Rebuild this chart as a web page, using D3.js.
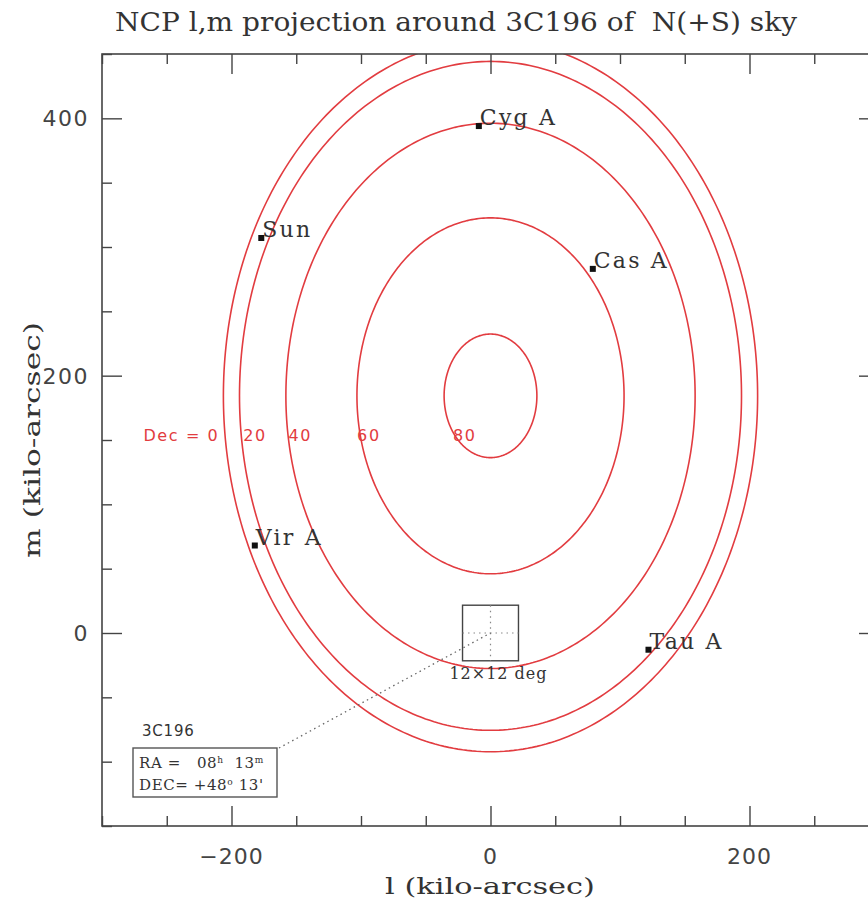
<!DOCTYPE html>
<html>
<head>
<meta charset="utf-8">
<script src="https://cdn.jsdelivr.net/npm/d3@7"></script>
<style>
  html, body { margin: 0; padding: 0; background: #fff; }
  svg { display: block; }
  text.pre { white-space: pre; }
</style>
</head>
<body>
<svg id="chart" width="868" height="905"></svg>
<script>
// Phase centre: 3C196
const phaseCentre = { name: "3C196", ra: "08h 13m", decDeg: 48 + 13 / 60 };

// Declination circles (degrees) drawn as NCP ellipses
const decCircles = [0, 20, 40, 60, 80];
// Where each declination label starts along l (kilo-arcsec), and its text
const decLabelText = ["Dec = 0", "20", "40", "60", "80"];
const decLabelL = [-268, -191, -156, -103, -29];
const decLabelM = 149;

// Bright sources in l,m (kilo-arcsec)
const sourceNames = ["Cyg A", "Sun", "Cas A", "Vir A", "Tau A"];
const sourceL = [-9, -177, 79, -182, 122];
const sourceM = [394, 307, 283, 68, -13];

// Axis ticks
const majorTicks = [-400, -200, 0, 200, 400];
const minorStep = 50;

// Field of view box (degrees)
const fovDeg = 12;

const KARCSEC_PER_RAD = 206.264806;
const deg = Math.PI / 180;

const svg = d3.select("#chart");
const plot = { left: 102, right: 879, top: 54, bottom: 826 };

const x = d3.scaleLinear().domain([-300, 300]).range([plot.left, plot.right]);
const y = d3.scaleLinear().domain([-150, 450]).range([plot.bottom, plot.top]);

const ink = "#333";
const red = "#e23c40";

// Title
svg.append("text")
  .attr("class", "pre")
  .attr("x", 456).attr("y", 31)
  .attr("text-anchor", "middle")
  .attr("font-family", "DejaVu Serif")
  .attr("font-size", 26)
  .attr("fill", ink)
  .attr("textLength", 682).attr("lengthAdjust", "spacingAndGlyphs")
  .text("NCP l,m projection around 3C196 of  N(+S) sky");

// Clip for the plot contents
svg.append("defs").append("clipPath").attr("id", "plotClip")
  .append("rect")
  .attr("x", plot.left).attr("y", plot.top)
  .attr("width", plot.right - plot.left).attr("height", plot.bottom - plot.top);

const g = svg.append("g").attr("clip-path", "url(#plotClip)");

// NCP projection of a declination circle around the phase centre
const sinD0 = Math.sin(phaseCentre.decDeg * deg);
const cosD0 = Math.cos(phaseCentre.decDeg * deg);
function decCircle(dDeg) {
  const cd = Math.cos(dDeg * deg);
  return d3.range(0, 361, 1).map(h => {
    const H = h * deg;
    return [
      cd * Math.sin(H) * KARCSEC_PER_RAD,
      (cosD0 - cd * Math.cos(H)) / sinD0 * KARCSEC_PER_RAD
    ];
  });
}

const line = d3.line().x(d => x(d[0])).y(d => y(d[1]));
g.selectAll("path.dec")
  .data(decCircles)
  .join("path")
  .attr("class", "dec")
  .attr("d", d => line(decCircle(d)))
  .attr("fill", "none")
  .attr("stroke", red)
  .attr("stroke-width", 1.6);

// Declination labels
g.selectAll("text.declab")
  .data(decLabelText)
  .join("text")
  .attr("class", "declab")
  .attr("x", (d, i) => x(decLabelL[i]))
  .attr("y", y(decLabelM))
  .attr("font-family", "DejaVu Sans")
  .attr("font-size", 16)
  .attr("letter-spacing", 1.6)
  .attr("fill", red)
  .text(d => d);

// Field of view box around the phase centre
const half = fovDeg / 2 * 3.6; // kilo-arcsec
g.append("rect")
  .attr("x", x(-half)).attr("y", y(half))
  .attr("width", x(half) - x(-half)).attr("height", y(-half) - y(half))
  .attr("fill", "none").attr("stroke", "#444").attr("stroke-width", 1.4);
g.append("line")
  .attr("x1", x(0)).attr("x2", x(0)).attr("y1", y(half)).attr("y2", y(-half))
  .attr("stroke", "#888").attr("stroke-width", 1.2).attr("stroke-dasharray", "1.5,4");
g.append("line")
  .attr("x1", x(-half)).attr("x2", x(half)).attr("y1", y(0)).attr("y2", y(0))
  .attr("stroke", "#888").attr("stroke-width", 1.2).attr("stroke-dasharray", "1.5,4");
g.append("text")
  .attr("x", x(0) + 8).attr("y", y(-half) + 18)
  .attr("text-anchor", "middle")
  .attr("font-family", "DejaVu Serif")
  .attr("font-size", 16)
  .attr("letter-spacing", 1)
  .attr("fill", ink)
  .text("12\u00d712 deg");

// Leader from the info box to the phase centre
g.append("line")
  .attr("x1", 279).attr("y1", 748)
  .attr("x2", x(0)).attr("y2", y(0))
  .attr("stroke", "#666").attr("stroke-width", 1.3).attr("stroke-dasharray", "1.5,3.5");

// Sources
const sources = sourceNames.map((n, i) => ({ name: n, l: sourceL[i], m: sourceM[i] }));
g.selectAll("rect.src")
  .data(sources)
  .join("rect")
  .attr("class", "src")
  .attr("x", d => x(d.l) - 3).attr("y", d => y(d.m) - 3)
  .attr("width", 6).attr("height", 6)
  .attr("fill", "#111");
g.selectAll("text.src")
  .data(sources)
  .join("text")
  .attr("class", "src")
  .attr("x", d => x(d.l) + 1).attr("y", d => y(d.m) - 1)
  .attr("font-family", "DejaVu Serif")
  .attr("font-size", 22)
  .attr("letter-spacing", 2.2)
  .attr("fill", ink)
  .text(d => d.name);

// Info box for the phase centre
svg.append("text")
  .attr("x", 142).attr("y", 736)
  .attr("font-family", "DejaVu Sans")
  .attr("font-size", 15)
  .attr("letter-spacing", 0.8)
  .attr("fill", ink)
  .text(phaseCentre.name);
svg.append("rect")
  .attr("x", 133).attr("y", 748).attr("width", 144).attr("height", 49)
  .attr("fill", "#fff").attr("stroke", "#555").attr("stroke-width", 1.4);

const raParts = phaseCentre.ra.match(/(\d+)h (\d+)m/);
const dd = Math.floor(phaseCentre.decDeg);
const dm = Math.round((phaseCentre.decDeg - dd) * 60);
const raText = svg.append("text")
  .attr("class", "pre")
  .attr("x", 139).attr("y", 768)
  .attr("font-family", "DejaVu Serif").attr("font-size", 15)
  .attr("letter-spacing", 0.6)
  .attr("fill", ink);
raText.append("tspan").text("RA =   " + raParts[1]);
raText.append("tspan").attr("font-size", 9).attr("dy", -5).text("h");
raText.append("tspan").attr("dy", 5).text("  " + raParts[2]);
raText.append("tspan").attr("font-size", 9).attr("dy", -5).text("m");

const decText = svg.append("text")
  .attr("class", "pre")
  .attr("x", 139).attr("y", 790)
  .attr("font-family", "DejaVu Serif").attr("font-size", 15)
  .attr("letter-spacing", 0.6)
  .attr("fill", ink);
decText.append("tspan").text("DEC= +" + dd);
decText.append("tspan").attr("font-size", 9).attr("dy", -5).text("o");
decText.append("tspan").attr("dy", 5).text(" " + dm + "'");

// Frame and ticks
const frame = svg.append("g");
frame.append("rect")
  .attr("x", plot.left).attr("y", plot.top)
  .attr("width", plot.right - plot.left).attr("height", plot.bottom - plot.top)
  .attr("fill", "none").attr("stroke", "#444").attr("stroke-width", 1.6);

const majorLen = 20, minorLen = 10;
const xTickVals = d3.range(-300, 301, minorStep);
const yTickVals = d3.range(-150, 451, minorStep);
const isMajor = v => majorTicks.includes(v);

const axes = [
  d3.axisBottom(x).tickValues(xTickVals),
  d3.axisTop(x).tickValues(xTickVals),
  d3.axisLeft(y).tickValues(yTickVals),
  d3.axisRight(y).tickValues(yTickVals)
];
const axisPos = [
  `translate(0,${plot.bottom})`, `translate(0,${plot.top})`,
  `translate(${plot.left},0)`, `translate(${plot.right},0)`
];
axes.forEach((ax, i) => {
  ax.tickSizeOuter(0).tickFormat("");
  const a = svg.append("g").attr("transform", axisPos[i]).call(ax);
  a.select(".domain").remove();
  a.selectAll(".tick line")
    .attr("stroke", "#444").attr("stroke-width", 1.4)
    .each(function(v) {
      const len = isMajor(v) ? majorLen : minorLen;
      const sel = d3.select(this);
      if (i === 0) sel.attr("y2", -len);
      if (i === 1) sel.attr("y2", len);
      if (i === 2) sel.attr("x2", len);
      if (i === 3) sel.attr("x2", -len);
    });
});

// Tick labels
const fmt = v => (v < 0 ? "\u2212" : "") + Math.abs(v);
svg.selectAll("text.xt")
  .data(majorTicks.filter(v => v >= -300 && v <= 300))
  .join("text").attr("class", "xt")
  .attr("x", d => x(d)).attr("y", 864)
  .attr("text-anchor", "middle")
  .attr("font-family", "DejaVu Sans").attr("font-size", 22)
  .attr("letter-spacing", 1)
  .attr("fill", "#444")
  .text(fmt);
svg.selectAll("text.yt")
  .data(majorTicks.filter(v => v >= -150 && v <= 450))
  .join("text").attr("class", "yt")
  .attr("x", 89).attr("y", d => y(d) + 8)
  .attr("text-anchor", "end")
  .attr("font-family", "DejaVu Sans").attr("font-size", 22)
  .attr("letter-spacing", 1.5)
  .attr("fill", "#444")
  .text(fmt);

// Axis titles
svg.append("text")
  .attr("x", 490).attr("y", 894)
  .attr("text-anchor", "middle")
  .attr("font-family", "DejaVu Serif").attr("font-size", 22)
  .attr("fill", ink)
  .attr("textLength", 210).attr("lengthAdjust", "spacingAndGlyphs")
  .text("l (kilo-arcsec)");
svg.append("text")
  .attr("transform", "translate(40,440) rotate(-90)")
  .attr("text-anchor", "middle")
  .attr("font-family", "DejaVu Serif").attr("font-size", 22)
  .attr("fill", ink)
  .attr("textLength", 236).attr("lengthAdjust", "spacingAndGlyphs")
  .text("m (kilo-arcsec)");
</script>
</body>
</html>
